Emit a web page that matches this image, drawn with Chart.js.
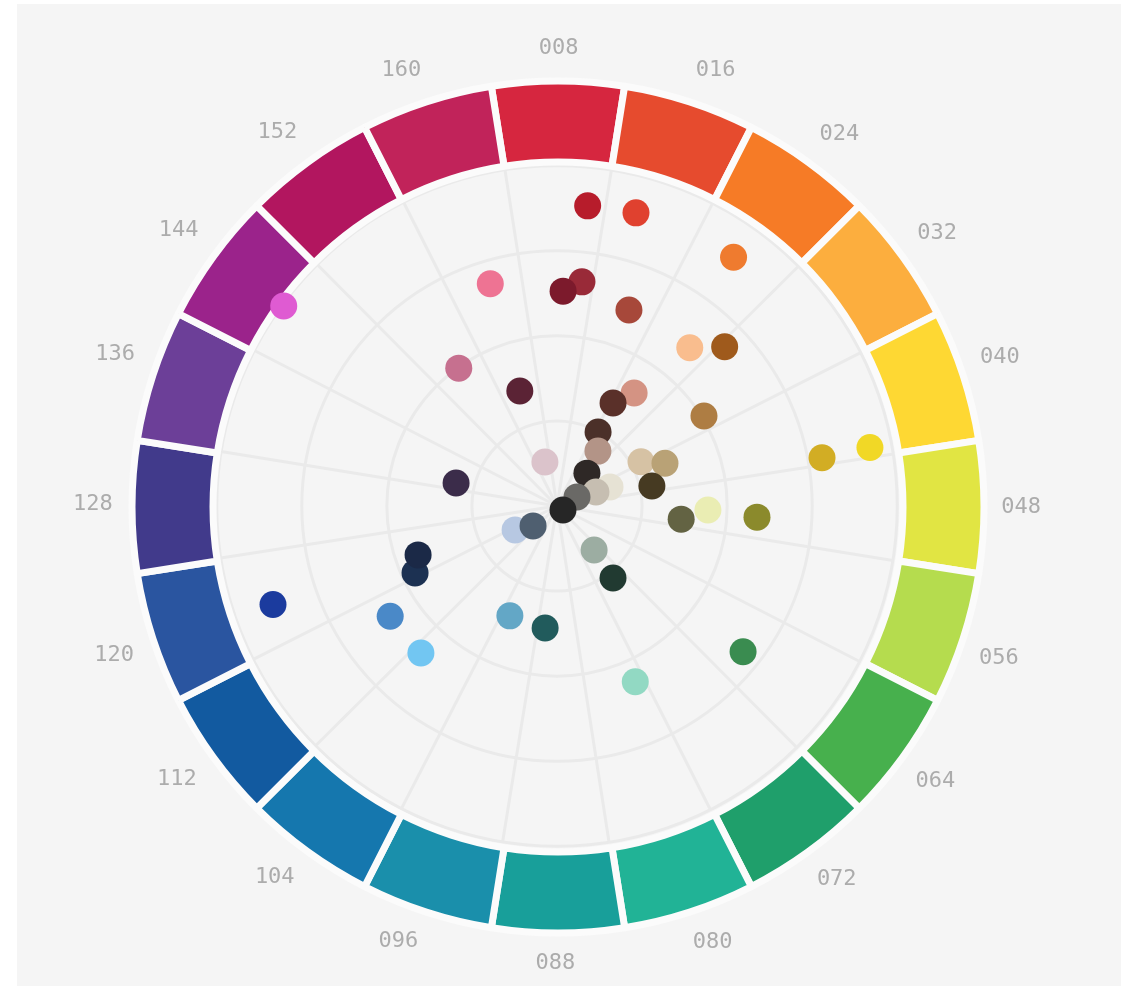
<!DOCTYPE html>
<html>
<head>
<meta charset="utf-8">
<script src="https://cdn.jsdelivr.net/npm/chart.js@4.4.1/dist/chart.umd.min.js"></script>
<style>
    html, body { margin: 0; padding: 0; background: #ffffff; overflow: hidden; }
    #panel { position: absolute; left: 17px; top: 4px; width: 1104px; height: 982px; background: #f5f5f5; }
    .layer { position: absolute; left: 0; top: 0; }
</style>
</head>
<body>
<div id="panel"></div>
<canvas id="gridChart" class="layer" width="1130" height="1000"></canvas>
<canvas id="ringChart" class="layer" width="1130" height="1000"></canvas>
<canvas id="dotChart" class="layer" width="1130" height="1000"></canvas>
<script>
// Hue steps round the wheel, clockwise from the top
const hueLabels = ['008', '016', '024', '032', '040', '048', '056', '064', '072', '080',
                   '088', '096', '104', '112', '120', '128', '136', '144', '152', '160'];
const ringValues = [1, 1, 1, 1, 1, 1, 1, 1, 1, 1, 1, 1, 1, 1, 1, 1, 1, 1, 1, 1];
const ringColors = ['#d6263f', '#e64b2e', '#f67b26', '#fcae3e', '#fed833', '#e1e543', '#b5dc4e',
                    '#47b04d', '#1f9f6b', '#21b396', '#189f9a', '#1a8fab', '#1577ae', '#125aa0',
                    '#2a55a0', '#413a8b', '#6c3f98', '#9b238b', '#b2165f', '#c1235a'];

// Swatches: hue (same 0-160 scale as the labels), chroma (0-100 from centre to rim)
const dotHue = [144.1, 0.5, 10.7, 8.6, 10.5, 14.6, 23.6, 16.8, 25.6, 28.5,
                152.2, 159.9, 23.0, 20.4, 33.8, 20.5, 23.8, 0.8, 35.3, 38.1,
                43.3, 43.2, 133.9, 26.0, 38.6, 38.4, 35.7, 61.8, 115.5, 111.5,
                50.5, 48.5, 49.3, 70.2, 71.2, 117.0, 119.6, 119.6, 113.3, 107.2,
                98.6, 90.7, 64.9, 77.4, 42.4];
const dotChroma = [100, 68.6, 66.6, 63.5, 89.0, 89.5, 89.8, 61.6, 60.8, 68.0,
                   50.2, 35.9, 40.3, 34.6, 50.6, 25.0, 20.2, 13.8, 27.8, 34.0,
                   79.0, 93.4, 30.8, 13.1, 16.4, 12.0, 6.3, 1.7, 14.3, 9.2,
                   36.4, 44.1, 58.6, 16.5, 26.4, 46.3, 43.5, 88.6, 58.9, 58.9,
                   35.0, 35.8, 69.1, 56.2, 28.3];
const dotColors = ['#df5bd2', '#ee7393', '#992a38', '#7c1a2c', '#b71c2b', '#e0412f', '#ef7b2f', '#a7483a', '#f9bd8e', '#9f5a1c',
                   '#c6708f', '#5b2335', '#d49383', '#5a3029', '#ae7d43', '#4b3029', '#b39487', '#dbc3cb', '#d6c2a4', '#b9a276',
                   '#d2ad24', '#f1d826', '#3b2c4a', '#2e2826', '#e6e2d4', '#c6beb1', '#6a6966', '#262626', '#b7c8e2', '#4f5f70',
                   '#636343', '#eaedb3', '#8b8a2c', '#9cada2', '#213a31', '#1c3152', '#1b2947', '#1b3b9e', '#4a89c8', '#72c6f2',
                   '#63a7c6', '#215b5c', '#3a8c50', '#92d9c3', '#463a22'];

const labelFont = { family: "'DejaVu Sans Mono', 'Liberation Mono', monospace", size: 22 };
const squarePad = { left: 74, right: 88, top: 23, bottom: 9 };

// Grid circles, spokes and hue labels
new Chart(document.getElementById('gridChart'), {
    type: 'radar',
    data: { labels: hueLabels, datasets: [] },
    options: {
        responsive: false,
        animation: false,
        layout: { padding: squarePad },
        plugins: { legend: { display: false }, tooltip: { enabled: false } },
        scales: {
            r: {
                min: 0,
                max: 100,
                startAngle: -8.8,
                ticks: { display: false, stepSize: 25 },
                grid: { circular: true, color: '#eaeaea', lineWidth: 3 },
                angleLines: { color: '#eaeaea', lineWidth: 3 },
                pointLabels: {
                    display: true,
                    centerPointLabels: true,
                    padding: 104,
                    color: '#acacac',
                    font: labelFont
                }
            }
        }
    }
});

// Outer colour ring
new Chart(document.getElementById('ringChart'), {
    type: 'doughnut',
    data: {
        labels: hueLabels,
        datasets: [{
            data: ringValues,
            backgroundColor: ringColors,
            borderColor: '#fbfbfb',
            borderWidth: 7
        }]
    },
    options: {
        responsive: false,
        animation: false,
        rotation: -9,
        radius: 426,
        cutout: (345 / 426 * 100) + '%',
        layout: { padding: squarePad },
        plugins: { legend: { display: false }, tooltip: { enabled: false } }
    }
});

// Swatch dots placed by hue angle and chroma
const dotPoints = dotHue.map(function(h, i) {
    const a = (h - 8) / 160 * 2 * Math.PI;
    return { x: dotChroma[i] * Math.sin(a), y: dotChroma[i] * Math.cos(a) };
});

new Chart(document.getElementById('dotChart'), {
    type: 'scatter',
    data: {
        datasets: [{
            data: dotPoints,
            backgroundColor: dotColors,
            borderWidth: 0,
            pointRadius: 13.5,
            pointHoverRadius: 13.5,
            clip: false
        }]
    },
    options: {
        responsive: false,
        animation: false,
        layout: { padding: { left: 218, right: 232, top: 167, bottom: 153 } },
        plugins: { legend: { display: false }, tooltip: { enabled: false } },
        scales: {
            x: { type: 'linear', min: -100, max: 100, display: false },
            y: { type: 'linear', min: -100, max: 100, display: false }
        }
    }
});
</script>
</body>
</html>
